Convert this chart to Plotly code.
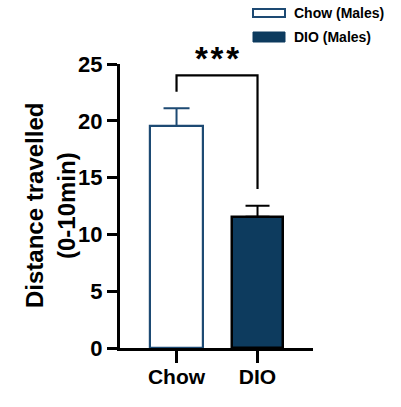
import plotly.graph_objects as go

# ---- data ----
categories = ["Chow", "DIO"]
means = [19.54, 11.56]
sem_upper = [1.56, 0.97]
legend_labels = ["Chow (Males)", "DIO (Males)"]
y_ticks = [0, 5, 10, 15, 20, 25]
bracket_left_y = 22.56
bracket_top_y = 24.0
bracket_right_y = 14.0
sig_label = "*\u200a*\u200a*"
y_title_lines = ["Distance travelled", "(0-10min)"]

# ---- styles ----
W, H = 401, 407
L, R, T, B = 120, 313, 64, 348
blue_line = "#1d4a73"
dio_fill = "#0d3b5e"
font_fam = "Liberation Sans, Arial, sans-serif"

def px(x):
    return (x - L) / (R - L)

def py(y):
    return (B - y) / (B - T)

fig = go.Figure()
fig.add_trace(go.Bar(
    x=[0], y=[means[0]], width=0.65,
    marker=dict(color="white", line=dict(color=blue_line, width=2.2)),
    error_y=dict(type="data", symmetric=False, array=[sem_upper[0]], arrayminus=[0],
                 color=blue_line, thickness=2, width=13),
    showlegend=False,
))
fig.add_trace(go.Bar(
    x=[1], y=[means[1]], width=0.63,
    marker=dict(color=dio_fill, line=dict(color="black", width=2.5)),
    error_y=dict(type="data", symmetric=False, array=[sem_upper[1]], arrayminus=[0],
                 color="black", thickness=2, width=12),
    showlegend=False,
))

shapes = [
    dict(type="path", xref="x", yref="y",
         path=f"M 0,{bracket_left_y} L 0,{bracket_top_y} L 1,{bracket_top_y} L 1,{bracket_right_y}",
         line=dict(color="black", width=2.2)),
    # legend swatches
    dict(type="rect", xref="paper", yref="paper",
         x0=px(253), x1=px(285), y0=py(17), y1=py(9),
         fillcolor="white", line=dict(color=blue_line, width=2)),
    dict(type="rect", xref="paper", yref="paper",
         x0=px(253), x1=px(285), y0=py(42), y1=py(32),
         fillcolor=dio_fill, line=dict(color=dio_fill, width=1)),
]

annotations = [
    dict(text=f"<b>{sig_label}</b>", x=0.5, y=py(59), xref="x", yref="paper",
         showarrow=False, font=dict(size=33, color="black", family=font_fam),
         xanchor="center", yanchor="middle"),
    dict(text=f"<b>{y_title_lines[0]}</b>", textangle=-90,
         x=px(34), y=py(206), xref="paper", yref="paper", showarrow=False,
         xanchor="center", yanchor="middle",
         font=dict(size=24, color="black", family=font_fam)),
    dict(text=f"<b>{y_title_lines[1]}</b>", textangle=-90,
         x=px(66), y=py(206), xref="paper", yref="paper", showarrow=False,
         xanchor="center", yanchor="middle",
         font=dict(size=24, color="black", family=font_fam)),
    dict(text=f"<b>{legend_labels[0]}</b>", x=px(292), y=py(13), xref="paper", yref="paper",
         showarrow=False, xanchor="left", yanchor="middle",
         font=dict(size=14, color="black", family=font_fam)),
    dict(text=f"<b>{legend_labels[1]}</b>", x=px(292), y=py(37), xref="paper", yref="paper",
         showarrow=False, xanchor="left", yanchor="middle",
         font=dict(size=14, color="black", family=font_fam)),
]

fig.update_layout(
    width=W, height=H,
    margin=dict(l=L, r=W - R, t=T, b=H - B, pad=0),
    plot_bgcolor="white", paper_bgcolor="white",
    shapes=shapes, annotations=annotations,
    bargap=0,
    xaxis=dict(
        range=[-0.698, 1.685], tickvals=[0, 1], ticktext=[f"<b>{c}</b>" for c in categories],
        showline=True, linecolor="black", linewidth=3,
        ticks="outside", ticklen=12, tickwidth=3, tickcolor="black",
        showgrid=False, zeroline=False, ticklabelstandoff=-4,
        tickfont=dict(size=21, color="black", family=font_fam),
    ),
    yaxis=dict(
        range=[0, 25], tickvals=y_ticks, ticktext=[f"<b>{v}</b>" for v in y_ticks],
        showline=True, linecolor="black", linewidth=3,
        ticks="outside", ticklen=10, tickwidth=3, tickcolor="black",
        showgrid=False, zeroline=False,
        tickfont=dict(size=22, color="black", family=font_fam),
    ),
)

fig.write_html("out.html", config={"displayModeBar": False},
               post_script="document.body.style.margin='0';")
